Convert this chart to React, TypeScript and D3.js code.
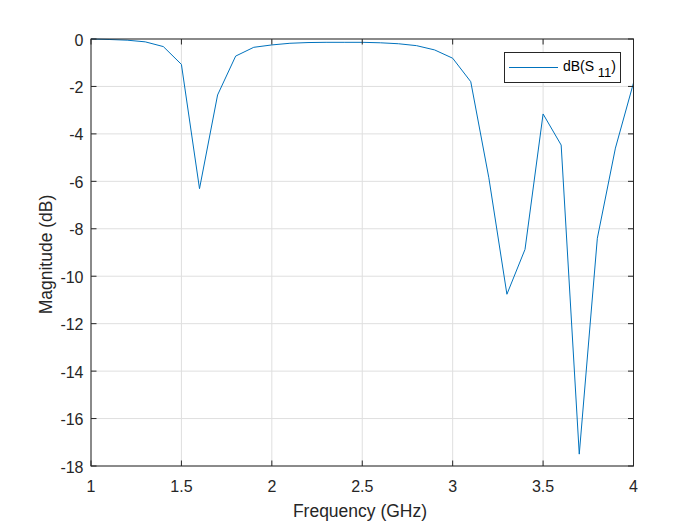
import React from "react";
import * as d3 from "d3";

const freqs: number[] = [1.0,1.1,1.2,1.3,1.4,1.5,1.6,1.7,1.8,1.9,2.0,2.1,2.2,2.3,2.4,2.5,2.6,2.7,2.8,2.9,3.0,3.1,3.2,3.3,3.4,3.5,3.6,3.7,3.8,3.9,4.0];
const s11dB: number[] = [0,-0.02,-0.05,-0.12,-0.32,-1.07,-6.31,-2.36,-0.72,-0.35,-0.25,-0.18,-0.15,-0.14,-0.14,-0.14,-0.16,-0.2,-0.28,-0.46,-0.81,-1.8,-5.85,-10.76,-8.87,-3.16,-4.47,-17.5,-8.4,-4.6,-1.85];
const xTicks: number[] = [1,1.5,2,2.5,3,3.5,4];
const yTicks: number[] = [0,-2,-4,-6,-8,-10,-12,-14,-16,-18];
const xLabel = "Frequency (GHz)";
const yLabel = "Magnitude (dB)";

const W = 700, H = 525;
const L = 91, R = 633.5, T = 39, B = 466;
const axisColor = "#262626";
const gridColor = "#dfdfdf";
const lineColor = "#0072BD";
const font = "'Liberation Sans', Arial, Helvetica, sans-serif";

export default function App() {
  const x = d3.scaleLinear().domain([1, 4]).range([L, R]);
  const y = d3.scaleLinear().domain([-18, 0]).range([B, T]);
  const line = d3.line<number>().x((_, i) => x(freqs[i])).y((d) => y(d));
  const path = line(s11dB) || "";
  const tl = 5.5;
  return (
    <svg width={W} height={H} style={{ position: "absolute", left: 0, top: 0, background: "#fff" }} fontFamily={font}>
      <rect x={0} y={0} width={W} height={H} fill="#fff" />
      {xTicks.map((t) => (
        <line key={"gx" + t} x1={x(t)} x2={x(t)} y1={T} y2={B} stroke={gridColor} strokeWidth={1} />
      ))}
      {yTicks.map((t) => (
        <line key={"gy" + t} x1={L} x2={R} y1={y(t)} y2={y(t)} stroke={gridColor} strokeWidth={1} />
      ))}
      <path d={path} fill="none" stroke={lineColor} strokeWidth={1} strokeLinejoin="round" />
      <rect x={L} y={T} width={R - L} height={B - T} fill="none" stroke={axisColor} strokeWidth={1} />
      {xTicks.map((t) => (
        <g key={"tx" + t}>
          <line x1={x(t)} x2={x(t)} y1={B} y2={B - tl} stroke={axisColor} />
          <line x1={x(t)} x2={x(t)} y1={T} y2={T + tl} stroke={axisColor} />
          <text x={x(t)} y={491.5} textAnchor="middle" fontSize={16} fill={axisColor}>{String(t)}</text>
        </g>
      ))}
      {yTicks.map((t) => (
        <g key={"ty" + t}>
          <line x1={L} x2={L + tl} y1={y(t)} y2={y(t)} stroke={axisColor} />
          <line x1={R} x2={R - tl} y1={y(t)} y2={y(t)} stroke={axisColor} />
          <text x={83.5} y={y(t) + 6.5} textAnchor="end" fontSize={16} fill={axisColor}>{String(t)}</text>
        </g>
      ))}
      <text x={360} y={516.5} textAnchor="middle" fontSize={17.5} fill={axisColor}>{xLabel}</text>
      <text transform={`translate(51.5,${(T + B) / 2 + 2}) rotate(-90)`} textAnchor="middle" fontSize={17.5} fill={axisColor}>{yLabel}</text>
      <g>
        <rect x={504.5} y={52.5} width={116} height={30} fill="#fff" stroke={axisColor} strokeWidth={1} />
        <line x1={509} x2={558} y1={67.5} y2={67.5} stroke={lineColor} strokeWidth={1} />
        <text x={563} y={71} fontSize={14} fill="#000">
          dB(S<tspan fontSize={13} dx={3.5} dy={6}>11</tspan><tspan fontSize={14} dy={-6}>)</tspan>
        </text>
      </g>
    </svg>
  );
}
